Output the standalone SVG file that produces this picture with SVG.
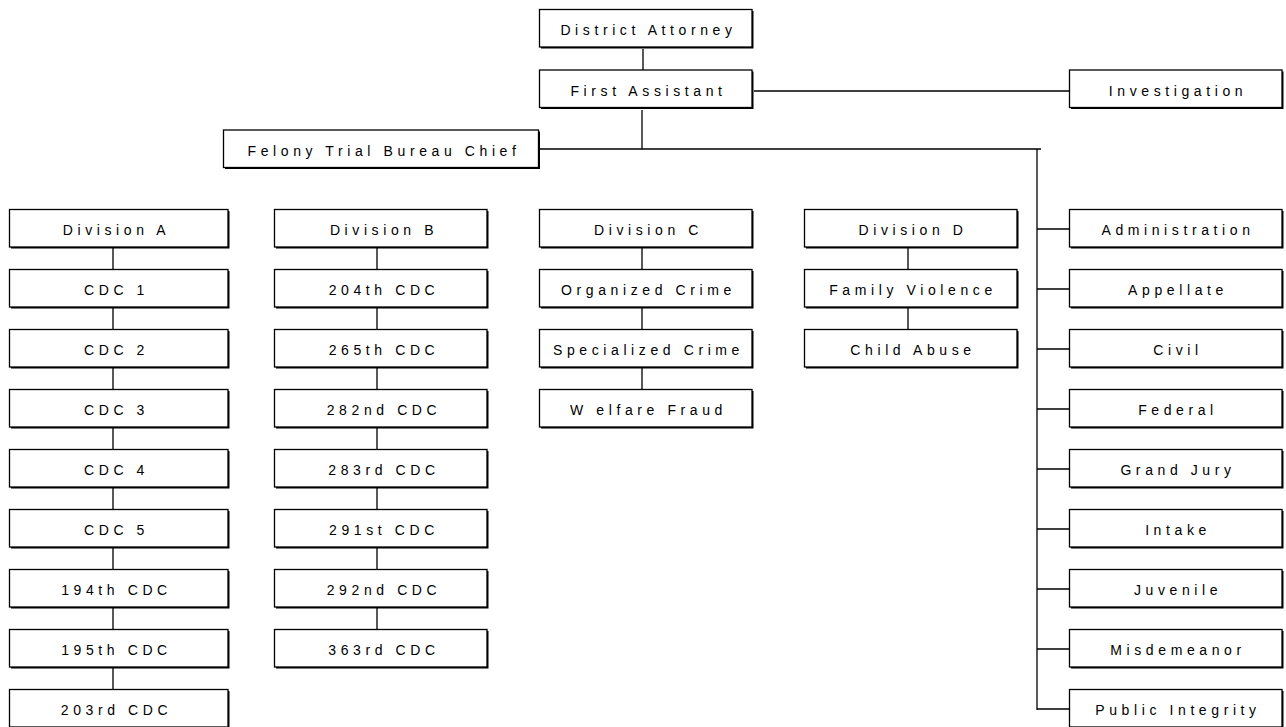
<svg xmlns="http://www.w3.org/2000/svg" width="1286" height="727" viewBox="0 0 1286 727">
<style>
.sh{fill:#000}
.bx{fill:#fff;stroke:#000;stroke-width:1.3}
.t{font-family:"Liberation Sans",Arial,sans-serif;font-size:14px;letter-spacing:4.6px;fill:#000;text-anchor:middle}
.c{stroke:#000;stroke-width:1.3;fill:none}
</style>
<rect width="1286" height="727" fill="#fff"/>
<g id="connectors">
<path class="c" d="M643 49V70 M642 110V149 M540 149H1041 M754 91H1069 M1037 149V710"/>
<path class="c" d="M1037 229H1069 M1037 289H1069 M1037 349H1069 M1037 409H1069 M1037 469H1069 M1037 529H1069 M1037 589H1069 M1037 649H1069 M1037 709H1069"/>
<path class="c" d="M113 248V269 M113 308V329 M113 368V389 M113 428V449 M113 488V509 M113 548V569 M113 608V629 M113 668V689"/>
<path class="c" d="M377 248V269 M377 308V329 M377 368V389 M377 428V449 M377 488V509 M377 548V569 M377 608V629"/>
<path class="c" d="M642 248V269 M642 308V329 M642 368V389"/>
<path class="c" d="M908 248V269 M908 308V329"/>
</g>
<g id="n-da"><rect class="sh" x="541" y="11" width="212.5" height="37.5"/><rect class="bx" x="539.5" y="9.5" width="212.5" height="37.5"/><text class="t" x="648.5" y="34.5">District Attorney</text></g>
<g id="n-fa"><rect class="sh" x="541" y="71.5" width="212.5" height="37.5"/><rect class="bx" x="539.5" y="70" width="212.5" height="37.5"/><text class="t" x="648.5" y="95.5">First Assistant</text></g>
<g id="n-inv"><rect class="sh" x="1071" y="71.5" width="212.5" height="37.5"/><rect class="bx" x="1069.5" y="70" width="212.5" height="37.5"/><text class="t" x="1178" y="95.5">Investigation</text></g>
<g id="n-felony"><rect class="sh" x="225" y="131.5" width="315" height="37.5"/><rect class="bx" x="223.5" y="130" width="315" height="37.5"/><text class="t" x="384" y="155.5">Felony Trial Bureau Chief</text></g>

<g id="n-diva"><rect class="sh" x="11" y="211" width="218.5" height="37.5"/><rect class="bx" x="9.5" y="209.5" width="218.5" height="37.5"/><text class="t" x="116.5" y="235">Division A</text></g>
<g id="n-cdc1"><rect class="sh" x="11" y="271" width="218.5" height="37.5"/><rect class="bx" x="9.5" y="269.5" width="218.5" height="37.5"/><text class="t" x="116.5" y="295">CDC 1</text></g>
<g id="n-cdc2"><rect class="sh" x="11" y="331" width="218.5" height="37.5"/><rect class="bx" x="9.5" y="329.5" width="218.5" height="37.5"/><text class="t" x="116.5" y="355">CDC 2</text></g>
<g id="n-cdc3"><rect class="sh" x="11" y="391" width="218.5" height="37.5"/><rect class="bx" x="9.5" y="389.5" width="218.5" height="37.5"/><text class="t" x="116.5" y="415">CDC 3</text></g>
<g id="n-cdc4"><rect class="sh" x="11" y="451" width="218.5" height="37.5"/><rect class="bx" x="9.5" y="449.5" width="218.5" height="37.5"/><text class="t" x="116.5" y="475">CDC 4</text></g>
<g id="n-cdc5"><rect class="sh" x="11" y="511" width="218.5" height="37.5"/><rect class="bx" x="9.5" y="509.5" width="218.5" height="37.5"/><text class="t" x="116.5" y="535">CDC 5</text></g>
<g id="n-194"><rect class="sh" x="11" y="571" width="218.5" height="37.5"/><rect class="bx" x="9.5" y="569.5" width="218.5" height="37.5"/><text class="t" x="116.5" y="595">194th CDC</text></g>
<g id="n-195"><rect class="sh" x="11" y="631" width="218.5" height="37.5"/><rect class="bx" x="9.5" y="629.5" width="218.5" height="37.5"/><text class="t" x="116.5" y="655">195th CDC</text></g>
<g id="n-203"><rect class="sh" x="11" y="691" width="218.5" height="37.5"/><rect class="bx" x="9.5" y="689.5" width="218.5" height="37.5"/><text class="t" x="116.5" y="715">203rd CDC</text></g>

<g id="n-divb"><rect class="sh" x="276" y="211" width="212.5" height="37.5"/><rect class="bx" x="274.5" y="209.5" width="212.5" height="37.5"/><text class="t" x="384" y="235">Division B</text></g>
<g id="n-204"><rect class="sh" x="276" y="271" width="212.5" height="37.5"/><rect class="bx" x="274.5" y="269.5" width="212.5" height="37.5"/><text class="t" x="384" y="295">204th CDC</text></g>
<g id="n-265"><rect class="sh" x="276" y="331" width="212.5" height="37.5"/><rect class="bx" x="274.5" y="329.5" width="212.5" height="37.5"/><text class="t" x="384" y="355">265th CDC</text></g>
<g id="n-282"><rect class="sh" x="276" y="391" width="212.5" height="37.5"/><rect class="bx" x="274.5" y="389.5" width="212.5" height="37.5"/><text class="t" x="384" y="415">282nd CDC</text></g>
<g id="n-283"><rect class="sh" x="276" y="451" width="212.5" height="37.5"/><rect class="bx" x="274.5" y="449.5" width="212.5" height="37.5"/><text class="t" x="384" y="475">283rd CDC</text></g>
<g id="n-291"><rect class="sh" x="276" y="511" width="212.5" height="37.5"/><rect class="bx" x="274.5" y="509.5" width="212.5" height="37.5"/><text class="t" x="384" y="535">291st CDC</text></g>
<g id="n-292"><rect class="sh" x="276" y="571" width="212.5" height="37.5"/><rect class="bx" x="274.5" y="569.5" width="212.5" height="37.5"/><text class="t" x="384" y="595">292nd CDC</text></g>
<g id="n-363"><rect class="sh" x="276" y="631" width="212.5" height="37.5"/><rect class="bx" x="274.5" y="629.5" width="212.5" height="37.5"/><text class="t" x="384" y="655">363rd CDC</text></g>

<g id="n-divc"><rect class="sh" x="541" y="211" width="212.5" height="37.5"/><rect class="bx" x="539.5" y="209.5" width="212.5" height="37.5"/><text class="t" x="648.5" y="235">Division C</text></g>
<g id="n-org"><rect class="sh" x="541" y="271" width="212.5" height="37.5"/><rect class="bx" x="539.5" y="269.5" width="212.5" height="37.5"/><text class="t" x="648.5" y="295">Organized Crime</text></g>
<g id="n-spec"><rect class="sh" x="541" y="331" width="212.5" height="37.5"/><rect class="bx" x="539.5" y="329.5" width="212.5" height="37.5"/><text class="t" x="648.5" y="355">Specialized Crime</text></g>
<g id="n-welf"><rect class="sh" x="541" y="391" width="212.5" height="37.5"/><rect class="bx" x="539.5" y="389.5" width="212.5" height="37.5"/><text class="t" x="648.5" y="415">W elfare Fraud</text></g>

<g id="n-divd"><rect class="sh" x="806" y="211" width="212.5" height="37.5"/><rect class="bx" x="804.5" y="209.5" width="212.5" height="37.5"/><text class="t" x="913" y="235">Division D</text></g>
<g id="n-fam"><rect class="sh" x="806" y="271" width="212.5" height="37.5"/><rect class="bx" x="804.5" y="269.5" width="212.5" height="37.5"/><text class="t" x="913" y="295">Family Violence</text></g>
<g id="n-child"><rect class="sh" x="806" y="331" width="212.5" height="37.5"/><rect class="bx" x="804.5" y="329.5" width="212.5" height="37.5"/><text class="t" x="913" y="355">Child Abuse</text></g>

<g id="n-adm"><rect class="sh" x="1071" y="211" width="212.5" height="37.5"/><rect class="bx" x="1069.5" y="209.5" width="212.5" height="37.5"/><text class="t" x="1178" y="235">Administration</text></g>
<g id="n-app"><rect class="sh" x="1071" y="271" width="212.5" height="37.5"/><rect class="bx" x="1069.5" y="269.5" width="212.5" height="37.5"/><text class="t" x="1178" y="295">Appellate</text></g>
<g id="n-civ"><rect class="sh" x="1071" y="331" width="212.5" height="37.5"/><rect class="bx" x="1069.5" y="329.5" width="212.5" height="37.5"/><text class="t" x="1178" y="355">Civil</text></g>
<g id="n-fed"><rect class="sh" x="1071" y="391" width="212.5" height="37.5"/><rect class="bx" x="1069.5" y="389.5" width="212.5" height="37.5"/><text class="t" x="1178" y="415">Federal</text></g>
<g id="n-gj"><rect class="sh" x="1071" y="451" width="212.5" height="37.5"/><rect class="bx" x="1069.5" y="449.5" width="212.5" height="37.5"/><text class="t" x="1178" y="475">Grand Jury</text></g>
<g id="n-int"><rect class="sh" x="1071" y="511" width="212.5" height="37.5"/><rect class="bx" x="1069.5" y="509.5" width="212.5" height="37.5"/><text class="t" x="1178" y="535">Intake</text></g>
<g id="n-juv"><rect class="sh" x="1071" y="571" width="212.5" height="37.5"/><rect class="bx" x="1069.5" y="569.5" width="212.5" height="37.5"/><text class="t" x="1178" y="595">Juvenile</text></g>
<g id="n-mis"><rect class="sh" x="1071" y="631" width="212.5" height="37.5"/><rect class="bx" x="1069.5" y="629.5" width="212.5" height="37.5"/><text class="t" x="1178" y="655">Misdemeanor</text></g>
<g id="n-pi"><rect class="sh" x="1071" y="691" width="212.5" height="37.5"/><rect class="bx" x="1069.5" y="689.5" width="212.5" height="37.5"/><text class="t" x="1178" y="715">Public Integrity</text></g>
</svg>
